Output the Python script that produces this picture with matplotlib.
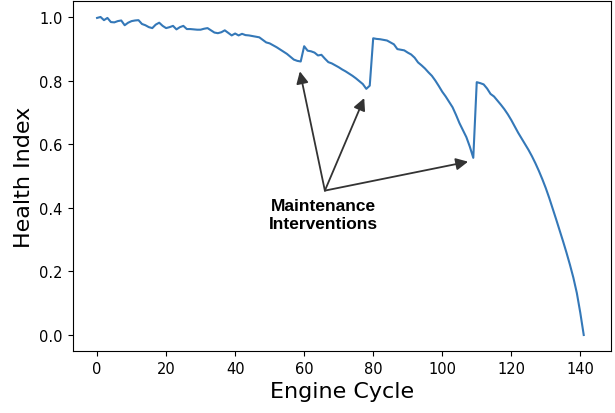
import numpy as np
import matplotlib
matplotlib.use('Agg')
import matplotlib.pyplot as plt

# health index per engine cycle
cycle = np.arange(0, 142)
health = [
    0.997, 1.000, 0.990, 0.997, 0.984, 0.983, 0.987, 0.989, 0.974, 0.982,
    0.987, 0.989, 0.990, 0.978, 0.974, 0.968, 0.965, 0.976, 0.982, 0.972,
    0.965, 0.968, 0.972, 0.961, 0.968, 0.972, 0.962, 0.962, 0.961, 0.960,
    0.960, 0.963, 0.965, 0.958, 0.951, 0.949, 0.952, 0.958, 0.950, 0.942,
    0.948, 0.942, 0.947, 0.943, 0.942, 0.940, 0.938, 0.936, 0.928, 0.920,
    0.917, 0.911, 0.905, 0.898, 0.891, 0.884, 0.875, 0.866, 0.862, 0.860,
    0.908, 0.894, 0.892, 0.888, 0.879, 0.881, 0.869, 0.858, 0.854, 0.848,
    0.842, 0.835, 0.829, 0.822, 0.815, 0.807, 0.798, 0.789, 0.774, 0.784,
    0.933, 0.931, 0.930, 0.928, 0.926, 0.920, 0.914, 0.899, 0.897, 0.895,
    0.888, 0.882, 0.872, 0.857, 0.848, 0.838, 0.826, 0.815, 0.800, 0.783,
    0.765, 0.750, 0.733, 0.716, 0.692, 0.666, 0.644, 0.622, 0.592, 0.557,
    0.795, 0.792, 0.788, 0.775, 0.758, 0.750, 0.737, 0.724, 0.710, 0.694,
    0.676, 0.656, 0.636, 0.618, 0.600, 0.582, 0.562, 0.540, 0.516, 0.490,
    0.462, 0.431, 0.398, 0.364, 0.330, 0.295, 0.259, 0.221, 0.180, 0.132,
    0.070, 0.000,
]

# annotation: text position, arrow tail and arrow tips
note_text = 'Maintenance\nInterventions'
note_pos = (65.5, 0.378)
arrow_tail = (66.0, 0.454)
arrow_tips = [(58.75, 0.829), (77.4, 0.745), (107.5, 0.545)]

fig = plt.figure(figsize=(6.15, 4.14), dpi=100)
ax = fig.add_axes([0.118, 0.150, 0.8755, 0.845])

ax.plot(cycle, health, color='#3478b8', lw=1.5)

for tip in arrow_tips:
    ax.annotate('', xy=tip, xytext=arrow_tail,
                arrowprops=dict(arrowstyle='-|>', color='#333333', lw=1.3,
                                mutation_scale=18, shrinkA=0, shrinkB=0))

ax.text(note_pos[0], note_pos[1], note_text, ha='center', va='center',
        fontsize=12.5, fontweight='bold', family='Liberation Sans',
        linespacing=1.25)

ax.set_xlim(-7.1, 148.9)
ax.set_ylim(-0.05, 1.05)
ax.set_xticks(np.arange(0, 141, 20))
ax.set_yticks(np.arange(0, 1.01, 0.2))
ax.tick_params(labelsize=10.5)
ax.set_xlabel('Engine Cycle', fontsize=16)
ax.set_ylabel('Health Index', fontsize=16)

fig.savefig('out.png', dpi=100)
